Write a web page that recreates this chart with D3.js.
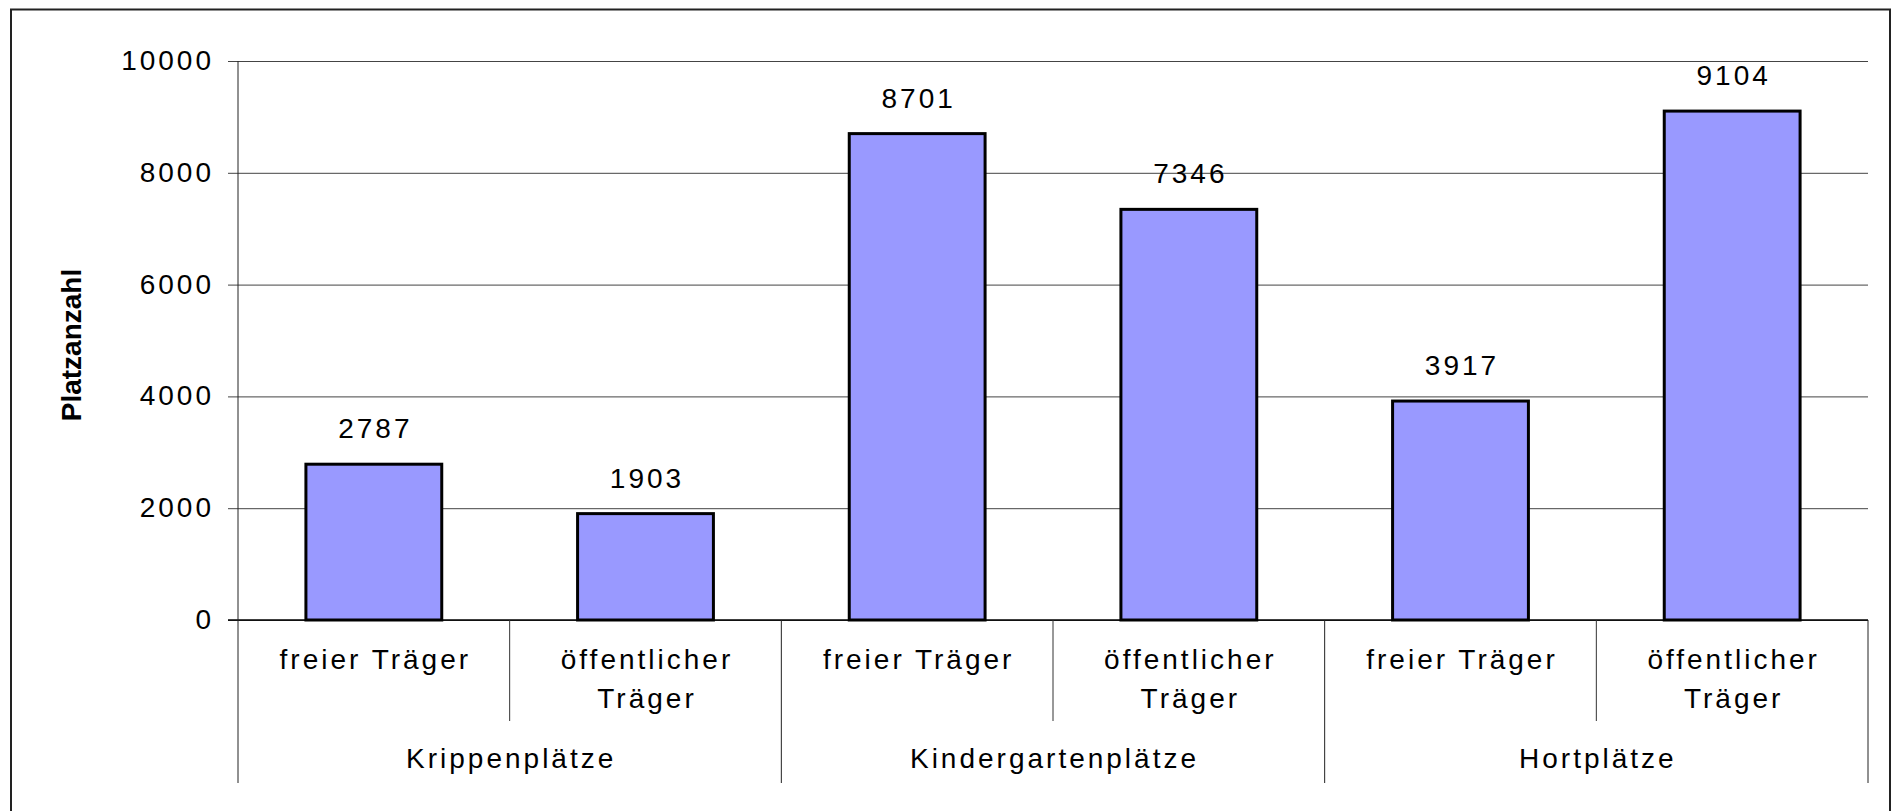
<!DOCTYPE html>
<html>
<head>
<meta charset="utf-8">
<script src="https://cdn.jsdelivr.net/npm/d3@7"></script>
<style>
  body { margin: 0; background: #fff; }
  svg { display: block; font-family: "Liberation Sans", Arial, sans-serif; }
  .lbl { font-size: 28px; letter-spacing: 3px; fill: #000; }
  .axisTitle { font-size: 28px; font-weight: bold; fill: #000; }
</style>
</head>
<body>
<div id="container"></div>
<script>
// chart values
var groups = ["Krippenplätze", "Kindergartenplätze", "Hortplätze"];
var carrierLines = [["freier Träger"], ["öffentlicher", "Träger"]];
var values = [2787, 1903, 8701, 7346, 3917, 9104];
var yTicks = [0, 2000, 4000, 6000, 8000, 10000];

var width = 1898, height = 811;
var margin = { top: 61, left: 238, right: 30, bottom: 191 };
var plotRight = width - margin.right;
var zeroY = height - margin.bottom;

// one cell per bar: group index + carrier index
var cells = [];
groups.forEach(function(g, gi) {
  carrierLines.forEach(function(c, ci) {
    cells.push({ id: gi + "-" + ci, group: g, lines: c, value: values[gi * carrierLines.length + ci] });
  });
});

var svg = d3.select("#container")
  .append("svg")
    .attr("width", width)
    .attr("height", height);

svg.append("rect")
  .attr("x", 11)
  .attr("y", 9.5)
  .attr("width", 1879)
  .attr("height", 900)
  .attr("fill", "none")
  .attr("stroke", "#222")
  .attr("stroke-width", 2);

var x = d3.scaleBand()
  .domain(cells.map(function(d) { return d.id; }))
  .range([margin.left, plotRight])
  .paddingInner(0.5)
  .paddingOuter(0.25);
var xGroup = d3.scaleBand()
  .domain(groups)
  .range([margin.left, plotRight]);
var y = d3.scaleLinear()
  .domain([0, 10000])
  .range([zeroY, margin.top]);

// gridlines
var gridAxis = d3.axisLeft(y)
  .tickValues(yTicks)
  .tickSizeInner(-(plotRight - margin.left))
  .tickSizeOuter(0)
  .tickFormat("");
svg.append("g")
    .attr("transform", "translate(" + margin.left + ",0)")
    .call(gridAxis)
    .call(function(g) { g.select(".domain").remove(); })
    .selectAll("line")
      .attr("stroke", "#444")
      .attr("stroke-width", 1);

// y ticks and labels
var yAxis = d3.axisLeft(y)
  .tickValues(yTicks)
  .tickSizeInner(10)
  .tickSizeOuter(0)
  .tickPadding(14)
  .tickFormat(d3.format("d"));
var yAxisGroup = svg.append("g")
  .attr("transform", "translate(" + margin.left + ",0)")
  .call(yAxis);
yAxisGroup.select(".domain").remove();
yAxisGroup.selectAll("line").attr("stroke", "#444");
yAxisGroup.selectAll("text")
  .attr("class", "lbl")
  .attr("font-family", null)
  .attr("font-size", null)
  .attr("dy", "0.3em");

svg.append("text")
  .attr("class", "axisTitle")
  .attr("transform", "translate(81," + 345 + ") rotate(-90)")
  .attr("text-anchor", "middle")
  .text("Platzanzahl");

// bars
svg.selectAll(".bar")
  .data(cells)
  .enter().append("rect")
    .attr("class", "bar")
    .attr("x", function(d) { return x(d.id); })
    .attr("y", function(d) { return y(d.value); })
    .attr("width", x.bandwidth())
    .attr("height", function(d) { return y(0) - y(d.value); })
    .attr("fill", "#9999ff")
    .attr("stroke", "#000")
    .attr("stroke-width", 3);

svg.selectAll(".valueLabel")
  .data(cells)
  .enter().append("text")
    .attr("class", "lbl valueLabel")
    .attr("text-anchor", "middle")
    .attr("x", function(d) { return x(d.id) + x.bandwidth() / 2 + 1.5; })
    .attr("y", function(d) { return y(d.value) - 26; })
    .text(function(d) { return d.value; });

// category axis
var step = x.step();
svg.append("line")
  .attr("x1", margin.left - 10)
  .attr("x2", plotRight)
  .attr("y1", zeroY)
  .attr("y2", zeroY)
  .attr("stroke", "#000")
  .attr("stroke-width", 1.5);

svg.append("line")
  .attr("x1", margin.left)
  .attr("x2", margin.left)
  .attr("y1", margin.top)
  .attr("y2", 783)
  .attr("stroke", "#222");

svg.selectAll(".cellSep")
  .data(cells.filter(function(d, i) { return i % 2 == 0; }))
  .enter().append("line")
    .attr("x1", function(d) { return x(d.id) - step * 0.25 + step; })
    .attr("x2", function(d) { return x(d.id) - step * 0.25 + step; })
    .attr("y1", zeroY)
    .attr("y2", 721)
    .attr("stroke", "#333");

svg.selectAll(".groupSep")
  .data(groups)
  .enter().append("line")
    .attr("x1", function(d) { return xGroup(d) + xGroup.bandwidth(); })
    .attr("x2", function(d) { return xGroup(d) + xGroup.bandwidth(); })
    .attr("y1", zeroY)
    .attr("y2", 783)
    .attr("stroke", "#222");

var catLabels = svg.selectAll(".catLabel")
  .data(cells)
  .enter().append("text")
    .attr("class", "lbl catLabel")
    .attr("text-anchor", "middle")
    .attr("y", 669);
catLabels.selectAll("tspan")
  .data(function(d) {
    return d.lines.map(function(l) { return { text: l, cx: x(d.id) + x.bandwidth() / 2 + 1.5 }; });
  })
  .enter().append("tspan")
    .attr("x", function(d) { return d.cx; })
    .attr("dy", function(d, i) { return i == 0 ? 0 : 39; })
    .text(function(d) { return d.text; });

svg.selectAll(".groupLabel")
  .data(groups)
  .enter().append("text")
    .attr("class", "lbl groupLabel")
    .attr("text-anchor", "middle")
    .attr("x", function(d) { return xGroup(d) + xGroup.bandwidth() / 2 + 1.5; })
    .attr("y", 768)
    .text(function(d) { return d; });
</script>
</body>
</html>
